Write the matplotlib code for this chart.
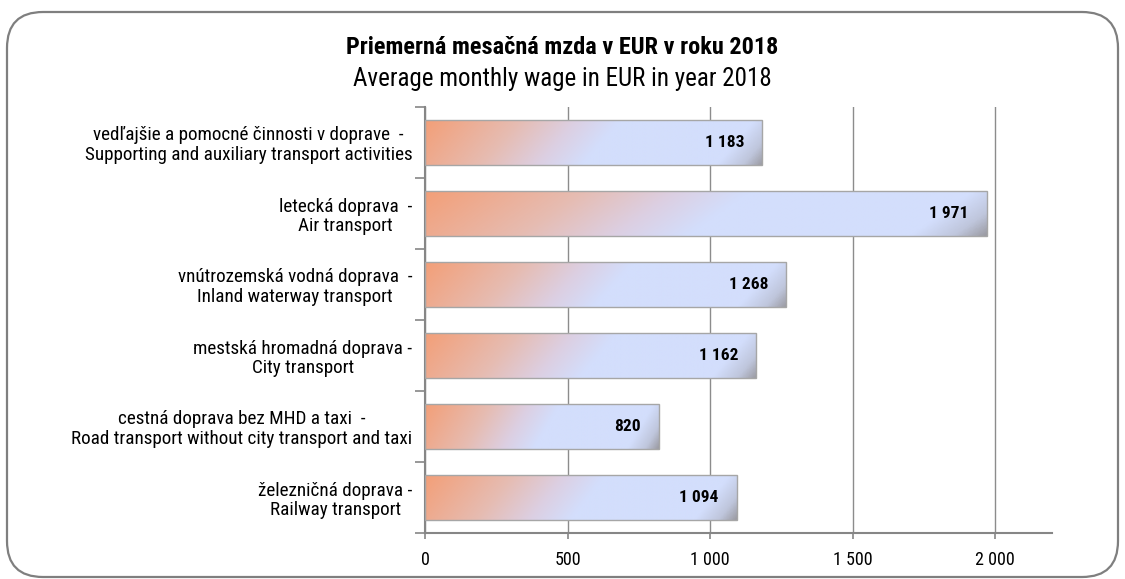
import matplotlib
matplotlib.use("Agg")
import matplotlib.pyplot as plt
import numpy as np
from matplotlib.patches import FancyBboxPatch
from matplotlib.ticker import FuncFormatter, FixedLocator
from matplotlib.colors import LinearSegmentedColormap
from matplotlib import font_manager

names = sorted(set(f.name for f in font_manager.fontManager.ttflist))
pref = ['Liberation Sans Narrow', 'Roboto Condensed', 'Open Sans Condensed',
        'DejaVu Sans Condensed', 'Liberation Sans']
fam = [p for p in pref if p in names][:1]
plt.rcParams['font.family'] = fam + ['DejaVu Sans']

# ---- data ----
categories = [
    "vedľajšie a pomocné činnosti v doprave  -\nSupporting and auxiliary transport activities",
    "letecká doprava  -\nAir transport",
    "vnútrozemská vodná doprava  -\nInland waterway transport",
    "mestská hromadná doprava -\nCity transport",
    "cestná doprava bez MHD a taxi  -\nRoad transport without city transport and taxi",
    "železničná doprava -\nRailway transport",
]
values = [1183, 1971, 1268, 1162, 820, 1094]
x_ticks = [0, 500, 1000, 1500, 2000]
title_sk = "Priemerná mesačná mzda v EUR v roku 2018"
title_en = "Average monthly wage in EUR in year 2018"

W, H = 1125, 579
fig = plt.figure(figsize=(W / 100, H / 100), dpi=100)

# rounded frame
frame = FancyBboxPatch((7 / W, 2 / H), (1118 - 7) / W, (567 - 2) / H,
                       boxstyle="round,pad=0,rounding_size=0.032",
                       transform=fig.transFigure, facecolor='none',
                       edgecolor='#7f7f7f', linewidth=1.6, mutation_aspect=W / H,
                       zorder=-1)
fig.patches.append(frame)

ax = fig.add_axes([425 / W, (H - 533) / H, (1052 - 425) / W, (533 - 107) / H])
ax.set_facecolor('none')

ypos = np.arange(len(values))
bars = ax.barh(ypos, values, height=0.62, facecolor='none', edgecolor='#a6a6a6',
               linewidth=1.0, zorder=3)

cmap = LinearSegmentedColormap.from_list('g', [
    (0.0, '#f39f78'),
    (0.25, '#e6bcb2'),
    (0.40, '#dccfe2'),
    (0.52, '#d3defc'),
    (0.88, '#d3defc'),
    (0.95, '#bfc6dc'),
    (1.0, '#9c9ca4'),
])
nu, nv = 400, 40
uu, vv = np.meshgrid(np.linspace(0, 1, nu), np.linspace(0, 1, nv))
t = 0.9 * uu + 0.1 * vv
for b in bars:
    x0, y0 = b.get_x(), b.get_y()
    w, h = b.get_width(), b.get_height()
    img = ax.imshow(cmap(t), extent=(x0, x0 + w, y0 + h, y0), origin='upper',
                    aspect='auto', zorder=2, interpolation='bilinear')
    img.set_clip_path(b)

ax.set_xlim(0, 2200)
ax.set_ylim(len(values) - 0.5, -0.5)

for b, v in zip(bars, values):
    ax.annotate(f"{v:,}".replace(",", " "), (v, b.get_y() + b.get_height() / 2),
                xytext=(-13, 0), textcoords='offset points', ha='right', va='center',
                fontsize=12.5, fontweight='bold', color='black', zorder=5)

# grid and axes
ax.xaxis.set_major_locator(FixedLocator(x_ticks))
ax.xaxis.set_major_formatter(FuncFormatter(lambda x, p: f"{int(x):,}".replace(",", " ")))
ax.grid(axis='x', color='#8c8c8c', linewidth=1.0, zorder=0)
ax.set_axisbelow(True)
for s in ['top', 'right']:
    ax.spines[s].set_visible(False)
for s in ['left', 'bottom']:
    ax.spines[s].set_color('#868686')
    ax.spines[s].set_linewidth(1.5)
ax.tick_params(axis='x', which='major', direction='out', length=4, width=1.2,
               color='#868686', labelsize=13, pad=9)

ax.yaxis.set_major_locator(FixedLocator(np.arange(-0.5, len(values), 1.0)))
ax.yaxis.set_major_formatter(FuncFormatter(lambda x, p: ""))
ax.yaxis.set_minor_locator(FixedLocator(ypos))
ax.set_yticklabels(categories, minor=True)
ax.tick_params(axis='y', which='major', direction='out', length=7, width=1.2, color='#868686')
ax.tick_params(axis='y', which='minor', length=0, labelsize=13.8, pad=9)
for lbl in ax.get_yticklabels(minor=True):
    lbl.set_multialignment('center')
    lbl.set_linespacing(1.1)

fig.text(562 / W, 1 - 48 / H, title_sk, ha='center', va='center', fontsize=17.5,
         fontweight='bold')
fig.text(562 / W, 1 - 79 / H, title_en, ha='center', va='center', fontsize=18)

fig.savefig('out.png', dpi=100)
